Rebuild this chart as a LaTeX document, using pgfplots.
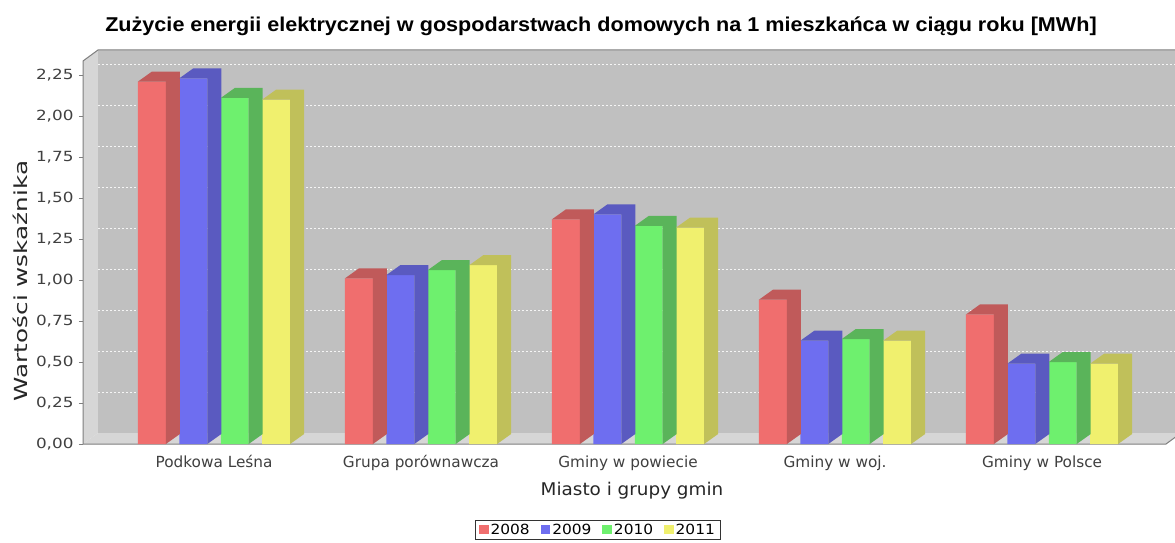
\documentclass[border=0pt]{standalone}
\usepackage{pgfplots}
\pgfplotsset{compat=1.18}
\usepackage{pgfplotstable}
\usepackage{fontspec}
\setmainfont{DejaVu Sans}
\newfontfamily\titlefam{Liberation Sans}[FakeStretch=1.08]
\newfontfamily\tickfam{DejaVu Sans}[FakeStretch=1.2]
\newfontfamily\ylabfam{DejaVu Sans}[FakeStretch=1.37]
\newfontfamily\xlabfam{DejaVu Sans}[FakeStretch=1.05]
\newfontfamily\legfam{DejaVu Sans}[FakeStretch=1.1]

\definecolor{fr}{HTML}{F06E6E}
\definecolor{fb}{HTML}{6E6EF0}
\definecolor{fg}{HTML}{6EF06E}
\definecolor{fy}{HTML}{F0F06E}
\definecolor{sr}{HTML}{C05A5A}
\definecolor{sb}{HTML}{5A5AC0}
\definecolor{sg}{HTML}{5AB45A}
\definecolor{sy}{HTML}{C0C05A}
\definecolor{wallback}{HTML}{C0C0C0}
\definecolor{wallside}{HTML}{D6D6D6}
\definecolor{frame}{HTML}{7F7F7F}
\definecolor{ticktext}{HTML}{404040}

\newcommand\tickfont{\tickfam\fontsize{14}{16}\selectfont}
\newcommand\catfont{\fontsize{15.3}{18}\selectfont}
\newcommand\xlabfont{\xlabfam\fontsize{17.5}{20}\selectfont}
\newcommand\ylabfont{\ylabfam\fontsize{18}{21}\selectfont}
\newcommand\legfont{\legfam\fontsize{14}{17}\selectfont}
\newcommand\titlefont{\titlefam\bfseries\fontsize{20}{24}\selectfont}

\pgfplotstableread{
x y2008 y2009 y2010 y2011
0 2.21 2.23 2.11 2.10
1 1.01 1.03 1.06 1.09
2 1.37 1.40 1.33 1.32
3 0.88 0.63 0.64 0.63
4 0.79 0.49 0.50 0.49
}\datatable

% side + top face of a 3D bar, anchored at the top-right corner of the front face
\pgfdeclareplotmark{bside}{%
  \pgfpathmoveto{\pgfqpoint{0pt}{0pt}}%
  \pgfpathlineto{\pgfqpoint{14pt}{10pt}}%
  \pgfpathlineto{\pgfqpoint{-13.945pt}{10pt}}%
  \pgfpathlineto{\pgfqpoint{-27.945pt}{0pt}}%
  \pgfpathclose
  \pgfpathmoveto{\pgfqpoint{0pt}{0pt}}%
  \pgfpathlineto{\pgfqpoint{14pt}{10pt}}%
  \pgfpathlineto{\pgfpoint{14pt}{10pt-\rawy*164pt}}%
  \pgfpathlineto{\pgfpoint{0pt}{-\rawy*164pt}}%
  \pgfpathclose
  \pgfusepathqfill
}

\pgfplotsset{
  bar3d/.style={ybar, bar width=0.135, bar shift=#1, draw=none,
    legend image code/.code={\fill[##1] (0pt,-4.5pt) rectangle (9.5pt,5pt);}},
  side3d/.style n args={2}{only marks, scatter, mark=bside, forget plot,
    scatter/use mapped color={draw=none, fill=#1},
    visualization depends on={\thisrow{#2} \as \rawy}},
}

\begin{document}
\begin{tikzpicture}
\useasboundingbox (0pt,0pt) rectangle (1175pt,542pt);
\fill[white] (0pt,0pt) rectangle (1175pt,542pt);
% 3D walls
\fill[wallside] (83pt,98pt) -- (98pt,109pt) -- (98pt,492pt) -- (83pt,481pt) -- cycle;
\fill[wallside] (83pt,98pt) -- (1166pt,98pt) -- (1181pt,109pt) -- (98pt,109pt) -- cycle;
\fill[wallback] (98pt,109pt) rectangle (1181pt,492pt);
\foreach \v in {0.25,0.5,0.75,1,1.25,1.5,1.75,2,2.25}
  \draw[white!92!gray, line width=0.8pt, dash pattern=on 2pt off 2pt]
    (98pt,{(109+164*\v)*1pt}) -- (1181pt,{(109+164*\v)*1pt});
\draw[frame, line width=1pt] (83pt,98pt) -- (83pt,481pt) -- (98pt,492pt) -- (1181pt,492pt);
\draw[frame, line width=1pt] (83pt,98pt) -- (1166pt,98pt) -- (1181pt,109pt);

\begin{axis}[
  at={(83pt,98pt)}, anchor=south west,
  x=207pt, y=164pt,
  xmin=-0.633, xmax=4.599, ymin=0, ymax=2.3354,
  axis line style={draw=none},
  ytick={0,0.25,0.5,0.75,1,1.25,1.5,1.75,2,2.25},
  ytick pos=left, tick align=outside, major tick length=4pt,
  ytick style={draw=frame, line width=0.8pt},
  xtick={0,1,2,3,4}, xtick style={draw=none},
  xticklabels={Podkowa Leśna, Grupa porównawcza, Gminy w powiecie, Gminy w woj., Gminy w Polsce},
  scaled y ticks=false,
  /pgf/number format/fixed, /pgf/number format/fixed zerofill,
  /pgf/number format/precision=2, /pgf/number format/use comma,
  /pgf/number format/assume math mode=true,
  yticklabel style={font=\tickfont, text=ticktext, xshift=-2pt},
  xticklabel style={font=\catfont, text=ticktext, anchor=base, yshift=-19pt},
  title={Zużycie energii elektrycznej w gospodarstwach domowych na 1 mieszkańca w ciągu roku [MWh]},
  title style={at={(axis description cs:0.4783,1.0783)}, anchor=base, yshift=-6pt, font=\titlefont},
  xlabel={Miasto i grupy gmin},
  xlabel style={at={(axis description cs:0.5069,-0.1332)}, anchor=base, font=\xlabfont, text=black!85},
  ylabel={Wartości wskaźnika},
  ylabel style={at={(axis description cs:-0.0582,0.4256)}, anchor=center, font=\ylabfont, text=black!85},
  legend style={at={(axis description cs:0.4755,-0.2245)}, anchor=center,
    legend columns=4, draw=black!80, line width=0.8pt, font=\legfont,
    inner xsep=4pt, inner ysep=1.5pt,
    nodes={inner sep=2pt},
    /tikz/every even column/.append style={column sep=9pt}},
]
\addplot[bar3d=-0.3, fill=fr] table[x=x, y=y2008] {\datatable};
\addlegendentry{2008}
\addplot[side3d={sr}{y2008}] table[x expr=\thisrow{x}-0.2325, y=y2008] {\datatable};
\addplot[bar3d=-0.1, fill=fb] table[x=x, y=y2009] {\datatable};
\addlegendentry{2009}
\addplot[side3d={sb}{y2009}] table[x expr=\thisrow{x}-0.0325, y=y2009] {\datatable};
\addplot[bar3d=0.1, fill=fg] table[x=x, y=y2010] {\datatable};
\addlegendentry{2010}
\addplot[side3d={sg}{y2010}] table[x expr=\thisrow{x}+0.1675, y=y2010] {\datatable};
\addplot[bar3d=0.3, fill=fy] table[x=x, y=y2011] {\datatable};
\addlegendentry{2011}
\addplot[side3d={sy}{y2011}] table[x expr=\thisrow{x}+0.3675, y=y2011] {\datatable};
\end{axis}
\end{tikzpicture}
\end{document}
